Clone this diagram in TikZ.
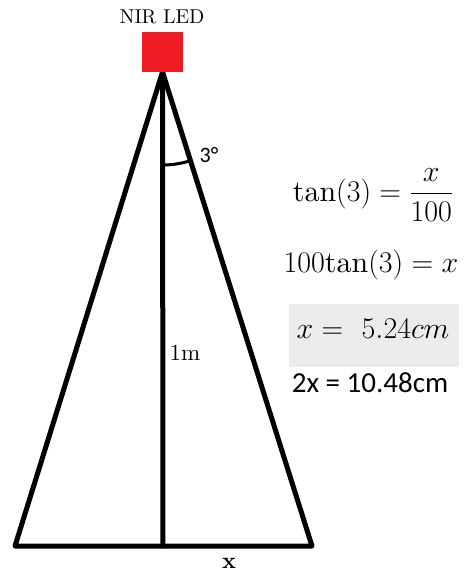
\RequirePackage{fix-cm}
\documentclass[tikz,border=0pt]{standalone}
\usepackage{amsmath}
\usepackage{fontspec}
\setmainfont{lmroman10-regular.otf}[BoldFont=lmroman10-bold.otf]
\newfontfamily\calibfont{Carlito}
\usepackage{xcolor}
\usepackage{tikz}
\usetikzlibrary{angles}
\definecolor{ledred}{RGB}{237,28,36}
\definecolor{boxgray}{RGB}{236,236,236}
\newcommand{\sz}[1]{\fontsize{#1}{#1}\selectfont}

\begin{document}
\begin{tikzpicture}[x=1pt,y=1pt,
  beam/.style={line width=5pt,line join=round},
  eqn/.style={font=\sz{30}}]
  \useasboundingbox (0,0) rectangle (470,-575);
  % cone of light
  \coordinate (apex) at (162.5,-72);
  \coordinate (lfoot) at (15,-546);
  \coordinate (rfoot) at (312,-546);
  \coordinate (base) at (163,-548);
  \draw[beam] (lfoot) -- (apex) -- (rfoot) -- cycle;
  \draw[beam] (apex) -- (base);
  \pic[draw,line width=3pt,angle radius=93pt] {angle=base--apex--rfoot};
  \node[fill=ledred,anchor=south,minimum width=41pt,minimum height=40pt,inner sep=0pt] (led) at (apex) {};
  \node[font=\sz{20}] (ledlabel) at (162,-17) {NIR LED};
  \node[font=\calibfont\sz{22}] (anglelabel) at (209,-155) {3°};
  \node[font=\sz{23}] (height) at (185,-353) {1m};
  \node[font=\bfseries\sz{23}] (half) at (229,-563) {x};
  % working
  \node[eqn] (eq1) at (373,-195) {$\mathrm{tan}(3)=\dfrac{x}{100}$};
  \node[eqn] (eq2) at (371,-265) {$100\mathrm{tan}(3)=x$};
  \node[fill=boxgray,minimum width=170pt,minimum height=63pt,inner sep=0pt] (resultbox) at (374,-335.5) {};
  \node[eqn] (eq3) at (373,-329) {$x=\ 5.24cm$};
  \node[font=\calibfont\sz{29}] (eq4) at (370,-383) {2x = 10.48cm};
\end{tikzpicture}
\end{document}
